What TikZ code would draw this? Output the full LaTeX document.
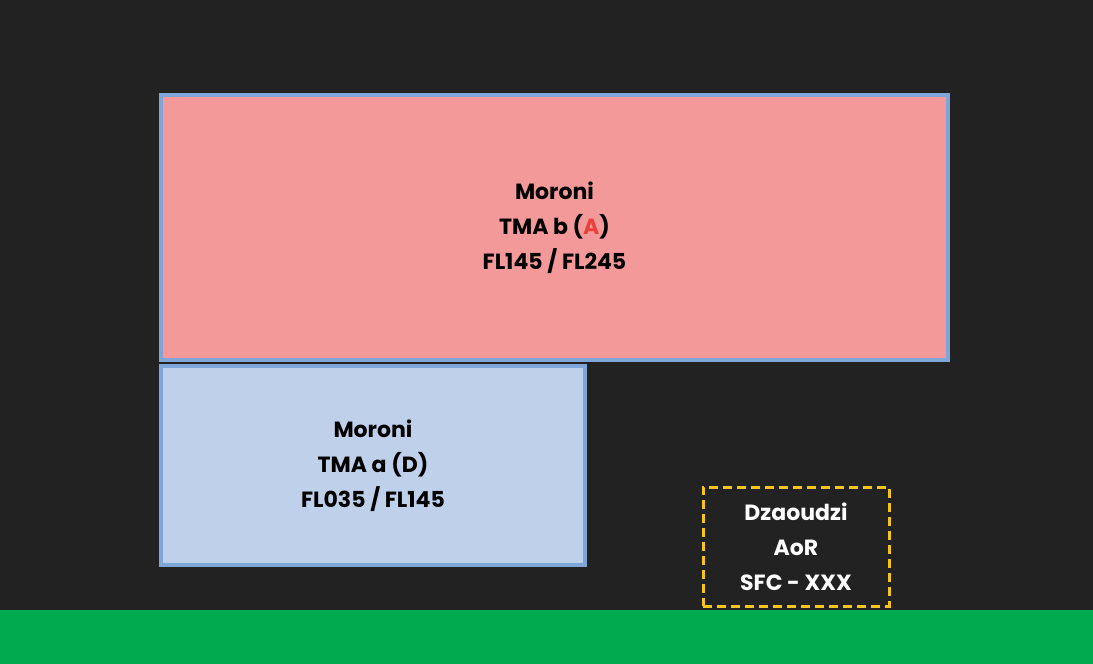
\documentclass[tikz,border=0pt]{standalone}
\usepackage{fontspec}
\setmainfont{Poppins}
\definecolor{bg}{HTML}{222222}
\definecolor{grn}{HTML}{00AA4F}
\definecolor{redf}{HTML}{F4999A}
\definecolor{bluef}{HTML}{BFD0EA}
\definecolor{edge}{HTML}{7EA6D9}
\definecolor{yel}{HTML}{F5C518}
\definecolor{redt}{HTML}{E8413C}
\tikzset{
  zone/.style={draw=edge,line width=4pt,text=black,font=\fontsize{22}{35}\selectfont\bfseries,align=center},
  aor/.style={draw=yel,line width=3pt,dash pattern=on 9pt off 5pt,text=white,font=\fontsize{22}{35}\selectfont\bfseries,align=center}
}
\begin{document}
\begin{tikzpicture}[x=1pt,y=-1pt]
\fill[bg] (0,0) rectangle (1093,664);
\useasboundingbox (0,0) rectangle (1093,664);
\fill[grn] (0,610) rectangle (1093,664);
\node[zone,fill=redf,minimum width=787pt,minimum height=265pt] (b) at (554.5,227.5) {Moroni\\TMA b ({\color{redt}A})\\FL145 / FL245};
\node[zone,fill=bluef,minimum width=424pt,minimum height=199pt] (a) at (373,465.5) {Moroni\\TMA a (D)\\FL035 / FL145};
\node[aor,minimum width=186pt,minimum height=119pt] (d) at (796,546.5) {Dzaoudzi\\AoR\\SFC - XXX};
\end{tikzpicture}
\end{document}
